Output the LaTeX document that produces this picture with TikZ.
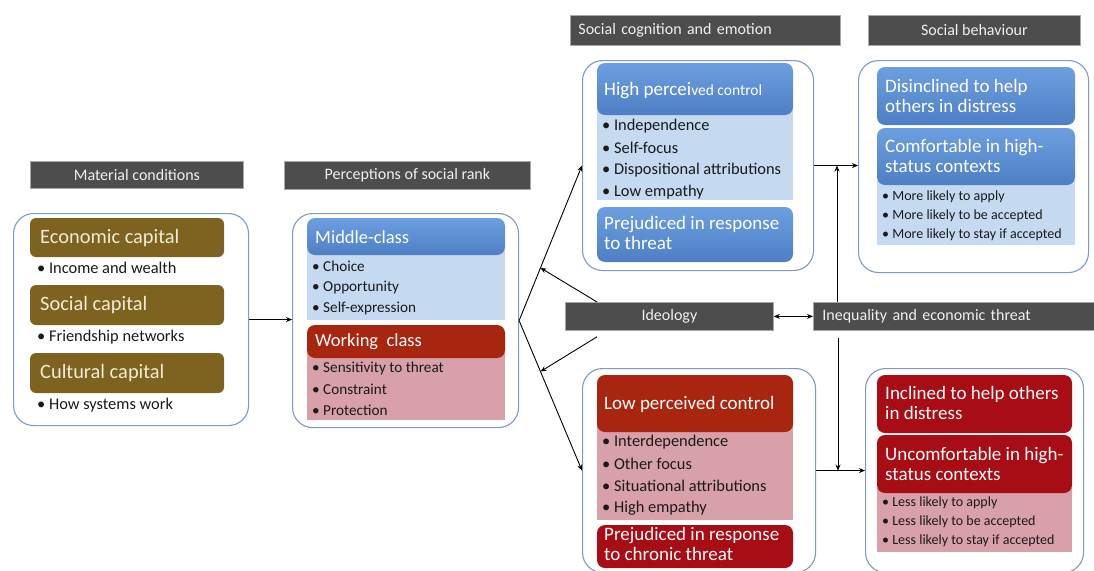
\documentclass[tikz,border=0pt]{standalone}
\usepackage{fontspec}
\setmainfont{Carlito}
\usetikzlibrary{arrows.meta,calc}
\definecolor{hgray}{HTML}{4D4D4D}
\definecolor{hline}{HTML}{A8A8A8}
\definecolor{htext}{HTML}{F0F0F0}
\definecolor{bcol}{HTML}{7F9BBE}
\definecolor{olive}{HTML}{7D6220}
\definecolor{cream}{HTML}{F4EBD2}
\definecolor{blueA}{HTML}{6C9FE0}
\definecolor{blueB}{HTML}{4E7FC5}
\definecolor{lblue}{HTML}{C5D9F0}
\definecolor{redA}{HTML}{A82510}
\definecolor{redB}{HTML}{A80C14}
\definecolor{pink}{HTML}{D8A0A8}
\definecolor{txt}{HTML}{1A1A1A}
\newcommand\fsz[2]{\fontsize{#1pt}{#2pt}\selectfont}
\begin{document}
\begin{tikzpicture}[x=1pt,y=-1pt,
  big/.style={draw=bcol, line width=1.1pt, rounded corners=20pt, fill=white, inner sep=0pt, anchor=north west},
  hdr/.style={fill=hgray, draw=hline, line width=0.8pt, inner sep=0pt, anchor=north west, text=htext, font=\fsz{16}{19}},
  bt/.style={anchor=west, inner sep=0pt, text=txt, font=\fsz{16.4}{19}},
  btp/.style={bt, font=\fsz{15.2}{18}},
  bts/.style={bt, font=\fsz{14}{16}},
  ht/.style={anchor=west, inner sep=0pt, align=left, text=white, font=\fsz{19}{20}},
  htm/.style={ht, text=cream, font=\fsz{20.4}{22}},
  olivebox/.style={fill=olive, rounded corners=6pt},
  bluebox/.style={top color=blueA, bottom color=blueB, rounded corners=8pt},
  redbox/.style={fill=redA, rounded corners=8pt},
  crimbox/.style={fill=redB, rounded corners=8pt},
  arr/.style={-{Stealth[length=6pt,width=5pt]}, line width=0.9pt, black},
  darr/.style={{Stealth[length=6pt,width=5pt]}-{Stealth[length=6pt,width=5pt]}, line width=0.9pt, black}
]
\path[use as bounding box] (0,0) rectangle (1094,570);
\clip (0,0) rectangle (1094,570);

% headers
\node[hdr, minimum width=213pt, minimum height=27pt] (h1) at (30,161) {Material conditions};
\node[hdr, minimum width=246pt, minimum height=28pt] (h2) at (284,161) {Perceptions of social rank};
\node[hdr, minimum width=270pt, minimum height=30pt, inner xsep=8pt, text width=254pt, align=left] (h3) at (570,15) {Social cognition and emotion};
\node[hdr, minimum width=212pt, minimum height=30pt] (h4) at (868,15) {Social behaviour};
\node[hdr, minimum width=208pt, minimum height=28pt] (ideo) at (565,302) {Ideology};
\node[hdr, minimum width=285pt, minimum height=28pt, inner xsep=9pt, text width=267pt, align=left] (ineq) at (813,302) {Inequality and economic threat};

% big boxes
\node[big, minimum width=235pt, minimum height=212pt] (mat) at (13,213) {};
\node[big, minimum width=226pt, minimum height=214pt] (per) at (292,213) {};
\node[big, minimum width=231pt, minimum height=210pt] (cogH) at (582,60) {};
\node[big, minimum width=230pt, minimum height=212pt] (behH) at (858,60) {};
\node[big, minimum width=233pt, minimum height=204pt] (cogL) at (582,368) {};
\node[big, minimum width=218pt, minimum height=204pt] (behL) at (865,368) {};

% material conditions
\path[olivebox] (30,218) rectangle (224,257);
\node[htm] (econ) at (40,238) {Economic capital};
\node[bt] (inc) at (37,268) {• Income and wealth};
\path[olivebox] (30,285) rectangle (224,325);
\node[htm] (soc) at (40,305) {Social capital};
\node[bt] (fri) at (37,337) {• Friendship networks};
\path[olivebox] (30,353) rectangle (224,393);
\node[htm] (cul) at (40,373) {Cultural capital};
\node[bt] (how) at (37,405) {• How systems work};

% perceptions
\path[fill=lblue] (307,250) rectangle (505,320);
\path[bluebox] (307,218) rectangle (505,255);
\node[ht, font=\fsz{18.5}{21}] (mc) at (315,237) {Middle-class};
\node[btp] (m1) at (312,266) {• Choice};
\node[btp] (m2) at (312,287) {• Opportunity};
\node[btp] (m3) at (312,308) {• Self-expression};
\path[fill=pink] (307,352) rectangle (505,420);
\path[redbox] (307,325) rectangle (505,358);
\node[ht, font=\fsz{18.5}{21}] (wc) at (315,342) {Working\ \ class};
\node[btp] (w1) at (312,368) {• Sensitivity to threat};
\node[btp] (w2) at (312,389) {• Constraint};
\node[btp] (w3) at (312,410) {• Protection};

% cognition high
\path[fill=lblue] (597,108) rectangle (793,200);
\path[bluebox] (597,63) rectangle (793,115);
\node[ht] (hpc) at (604,91) {High percei{\fsz{15.5}{18}ved control}};
\node[bt] (c1) at (602,126) {• Independence};
\node[bt] (c2) at (602,148) {• Self-focus};
\node[bt] (c3) at (602,170) {• Dispositional attributions};
\node[bt] (c4) at (602,192) {• Low empathy};
\path[bluebox] (597,207) rectangle (793,262);
\node[ht] (prej1) at (604,233) {Prejudiced in response\\to threat};

% behaviour high
\path[fill=lblue] (877,180) rectangle (1075,245);
\path[bluebox] (877,67) rectangle (1075,125);
\node[ht] (dis) at (885,96) {Disinclined to help\\others in distress};
\path[bluebox] (877,128) rectangle (1075,185);
\node[ht] (comf) at (885,156) {Comfortable in high-\\status contexts};
\node[bts] (b1) at (882,197) {• More likely to apply};
\node[bts] (b2) at (882,216) {• More likely to be accepted};
\node[bts] (b3) at (882,235) {• More likely to stay if accepted};

% cognition low
\path[fill=pink] (597,425) rectangle (793,520);
\path[redbox] (597,375) rectangle (793,432);
\node[ht] (lpc) at (604,404) {Low perceived control};
\node[bt] (l1) at (602,442) {• Interdependence};
\node[bt] (l2) at (602,464) {• Other focus};
\node[bt] (l3) at (602,486) {• Situational attributions};
\node[bt] (l4) at (602,508) {• High empathy};
\path[crimbox] (597,525) rectangle (793,568);
\node[ht] (prej2) at (604,544) {Prejudiced in response\\to chronic threat};

% behaviour low
\path[fill=pink] (877,488) rectangle (1072,552);
\path[crimbox] (877,375) rectangle (1072,433);
\node[ht] (incl) at (885,403) {Inclined to help others\\in distress};
\path[crimbox] (877,435) rectangle (1072,493);
\node[ht] (unc) at (885,464) {Uncomfortable in high-\\status contexts};
\node[bts] (n1) at (882,503) {• Less likely to apply};
\node[bts] (n2) at (882,522) {• Less likely to be accepted};
\node[bts] (n3) at (882,541) {• Less likely to stay if accepted};

% connectors
\draw[arr] (mat.east) -- (mat.east -| per.west);
\draw[arr] (per.east) -- (cogH.west);
\draw[arr] (per.east) -- (cogL.west);
\coordinate (i1) at ($(ideo.north west)+(32,0)$);
\coordinate (i2) at ($(ideo.south west)+(32,6)$);
\draw[arr] (i1) -- ($(per.east)!0.34!(cogH.west)$);
\draw[arr] (i2) -- ($(per.east)!0.34!(cogL.west)$);
\draw[darr] (ideo.east) -- (ineq.west);
\coordinate (u0) at ($(ineq.north west)+(24,0)$);
\coordinate (d0) at ($(ineq.south west)+(25,7)$);
\draw[arr] (cogH.east) -- (cogH.east -| behH.west);
\draw[arr] (u0) -- (u0 |- cogH.east);
\draw[arr] (cogL.east) -- (cogL.east -| behL.west);
\draw[arr] (d0) -- (d0 |- cogL.east);
\end{tikzpicture}
\end{document}
